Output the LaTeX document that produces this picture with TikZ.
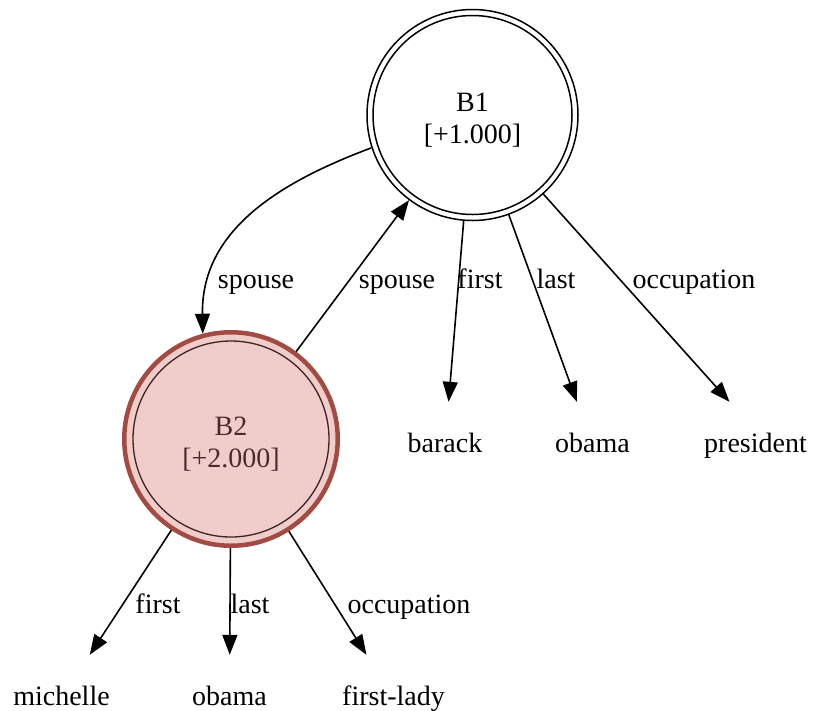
\documentclass[tikz,border=0pt]{standalone}
\usepackage{fontspec}
\setmainfont{Liberation Serif}
\usetikzlibrary{arrows.meta}
\definecolor{bfill}{HTML}{F0CCCA}
\definecolor{bedge}{HTML}{A24B43}
\definecolor{binner}{HTML}{3C2424}
\definecolor{btext}{HTML}{4A2C2C}
\newcommand{\twolines}[2]{\begin{tabular}[b]{@{}c@{}}#1\\{}#2\end{tabular}}
\begin{document}
\begin{tikzpicture}[x=1pt,y=-1pt,
  every node/.style={font=\fontsize{28}{31.5}\selectfont, inner sep=0pt},
  leaf/.style={text height=20pt, text depth=6pt, minimum height=86pt, minimum width=100pt},
  lbl/.style={anchor=base},
  edge/.style={draw=black, line width=1.6pt, -{Triangle[length=20pt,width=15pt]}},
  bnode/.style={circle, draw=black, line width=1.5pt, minimum size=211pt,
    outer sep=auto, text height=60pt, text depth=4pt},
  bnodeB/.style={circle, draw=bedge, fill=bfill, line width=4.5pt, minimum size=213.5pt,
    outer sep=auto, text=btext, text height=60pt, text depth=4pt}]
\useasboundingbox[fill=white] (0,0) rectangle (813,710);

% bundle nodes
\node[bnode] (B1) at (472.5,115) {\twolines{B1}{[+1.000]}};
\draw[line width=1.5pt] (B1.center) circle[radius=99.5pt];
\node[bnodeB] (B2) at (231,439) {\twolines{B2}{[+2.000]}};
\draw[binner, line width=1.3pt] (B2.center) circle[radius=98pt];

% value nodes
\node[leaf] (barack) at (445,445) {barack};
\node[leaf] (obama1) at (592.5,445) {obama};
\node[leaf] (president) at (755.5,445) {president};
\node[leaf] (michelle) at (61.5,698) {michelle};
\node[leaf] (obama2) at (229.5,698) {obama};
\node[leaf] (firstlady) at (393.5,698) {first-lady};

% connectors
\draw[edge] (B1.198) .. controls (280,182) and (201,230) .. (B2.105);
\draw[edge] (B2) -- (B1);
\draw[edge] (B1) -- (barack);
\draw[edge] (B1) -- (obama1);
\draw[edge] (B1) -- ([xshift=-26pt]president.north);
\draw[edge] (B2) -- (michelle);
\draw[edge] (B2) -- (obama2);
\draw[edge] (B2) -- (firstlady);

% edge labels
\node[lbl] (lsp1) at (256,288) {spouse};
\node[lbl] (lsp2) at (397,288) {spouse};
\node[lbl] (lfirst1) at (480,288) {first};
\node[lbl] (llast1) at (556,288) {last};
\node[lbl] (locc1) at (694,288) {occupation};
\node[lbl] (lfirst2) at (158,613) {first};
\node[lbl] (llast2) at (250,613) {last};
\node[lbl] (locc2) at (409,613) {occupation};
\end{tikzpicture}
\end{document}
